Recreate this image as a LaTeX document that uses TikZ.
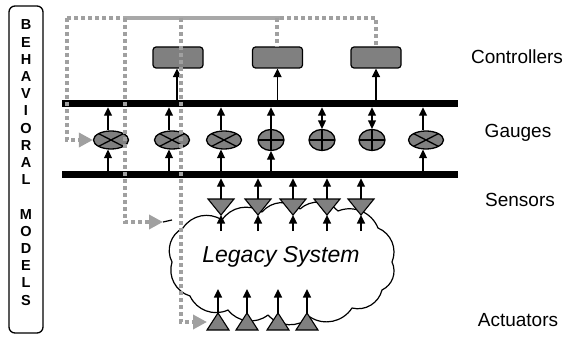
\documentclass[tikz,border=0pt]{standalone}
\usepackage{fontspec}
\setmainfont{Liberation Sans}
\usetikzlibrary{arrows.meta,shapes.geometric,calc}
\definecolor{boxgray}{RGB}{128,128,128}
\definecolor{dotgray}{RGB}{160,160,160}
\definecolor{solgray}{RGB}{168,168,168}
\begin{document}
\begin{tikzpicture}[x=1pt,y=-1pt,
  arr/.style={line width=1.3pt,-{Triangle[length=8.5pt,width=8pt]}},
  dbl/.style={line width=1.3pt,{Triangle[length=8.5pt,width=8pt]}-{Triangle[length=8.5pt,width=8pt]}},
  gdot/.style={draw=dotgray,line width=4.5pt,dash pattern=on 4pt off 3pt},
  garr/.style={gdot,-{Triangle[length=14pt,width=14pt]}},
  bus/.style={fill=black,minimum width=396pt,minimum height=7pt,inner sep=0pt},
  ctrl/.style={draw,line width=1.2pt,fill=boxgray,rounded corners=3pt,minimum width=50pt,minimum height=21pt,inner sep=0pt},
  gx/.style={ellipse,draw,line width=1.3pt,fill=boxgray,minimum width=35pt,minimum height=18pt,inner sep=0pt,
    path picture={\draw[line width=1.3pt] (path picture bounding box.north west) -- (path picture bounding box.south east)
      (path picture bounding box.south west) -- (path picture bounding box.north east);}},
  gp/.style={ellipse,draw,line width=1.3pt,fill=boxgray,minimum width=26pt,minimum height=21pt,inner sep=0pt,
    path picture={\draw[line width=1.3pt] (path picture bounding box.north) -- (path picture bounding box.south)
      (path picture bounding box.west) -- (path picture bounding box.east);}},
  tri/.style={draw,line width=1.1pt,fill=boxgray,line join=miter},
  lab/.style={font=\fontsize{19}{22}\selectfont},
  letter/.style={font=\fontsize{14.5}{16}\selectfont\bfseries,inner sep=0pt},
  puff/.style={bend left=45}
]
\useasboundingbox (0,0) rectangle (568,337);

% behavioral models box
\node[draw,line width=1.3pt,rounded corners=6pt,minimum width=34pt,minimum height=327pt,inner sep=0pt] (bm) at (26,169.5) {};
\foreach \l [count=\i] in {B,E,H,A,V,I,O,R,A,L,{},M,O,D,E,L,S}
  \node[letter] (L\i) at (26,{25+(\i-1)*17.2}) {\l};

% cloud
\draw[line width=1.2pt,fill=white,line join=round]
  (172,262) to[puff] (183,228) to[puff] (222,220) to[puff] (262,212) to[puff] (300,209)
  to[puff] (338,211) to[puff] (378,228) to[puff] (392,262) to[puff] (382,290)
  to[puff] (352,308) to[puff] (310,317) to[puff] (268,315) to[puff] (228,310)
  to[puff] (190,296) to[puff] cycle;
\node[font=\fontsize{23}{27}\selectfont\itshape] (legacy) at (281,257) {Legacy System};

% buses
\node[bus] (topbus) at (260,103.5) {};
\node[bus] (botbus) at (260,174.5) {};

% controllers
\node[ctrl] (c1) at (178,57.5) {};
\node[ctrl] (c2) at (277.5,57.5) {};
\node[ctrl] (c3) at (376,57.5) {};
\draw[arr] (c1.south -| 177,0) ++(0,32) coordinate (c1b) -- (c1.south -| c1b);
\draw[arr,line width=1.8pt] (c2.south |- topbus.north) -- (c2.south);
\draw[arr] (c3.south |- topbus.north) -- (c3.south);

% gauges
\node[gx] (g1) at (111,140) {};
\node[gx] (g2) at (172,140) {};
\node[gx] (g3) at (224,140) {};
\node[gp] (g4) at (271,140) {};
\node[gp] (g5) at (322,140) {};
\node[gp] (g6) at (372,140) {};
\node[gx] (g7) at (426,140) {};

\foreach \g/\dx in {g1/-3,g2/-3,g3/-3,g4/0,g7/-3}{
  \draw[arr] ([xshift=\dx pt]\g.north) -- ([xshift=\dx pt]\g.north |- topbus.south);
  \draw[arr] ([xshift=\dx pt]\g.south |- botbus.north) -- ([xshift=\dx pt]\g.south);
}
\foreach \g in {g5,g6}
  \draw[dbl] (\g.north |- topbus.south) -- (\g.north);

% sensors
\foreach \x [count=\i] in {221,258,293,327,361}{
  \coordinate (s\i) at (\x,207);
  \filldraw[tri] ($(s\i)+(-13,-8)$) -- ($(s\i)+(13,-8)$) -- ($(s\i)+(0,8)$) -- cycle;
  \draw[arr] ($(s\i)+(0,-8)$) -- (s\i |- botbus.south);
  \draw[arr] ($(s\i)+(0,24)$) -- ($(s\i)+(0,8)$);
}

% actuators
\foreach \x [count=\i] in {218,247,278,307}{
  \coordinate (a\i) at (\x,322);
  \filldraw[tri] ($(a\i)+(-11,8)$) -- ($(a\i)+(11,8)$) -- ($(a\i)+(0,-9)$) -- cycle;
  \draw[arr] ($(a\i)+(0,-9)$) -- ($(a\i)+(0,-33)$);
}

% gray feedback lines
\coordinate (tl) at (67,18);
\coordinate (cl) at (163,222);
\draw[draw=solgray,line width=4.5pt] (123,18) -- (280,18);
\draw[gdot] (120,18) -- (tl);
\draw[garr] (tl) -- (tl |- g1.west) -- (g1.west);
\draw[garr] (125,18) -- (125,222) -- (cl);
\draw[line width=1.2pt] (cl) -- (172,220);
\draw[garr] (181,18) -- (181,322) -- (a1 -| 207,0);
\draw[gdot] (277,18) -- (c2.north -| 277,0);
\draw[gdot] (280,18) -- (376,18) -- (c3.north);

% labels
\node[lab] (lc) at (517,57) {Controllers};
\node[lab] (lg) at (518,133) {Gauges};
\node[lab] (ls) at (520,200) {Sensors};
\node[lab] (la) at (518,320) {Actuators};
\end{tikzpicture}
\end{document}
